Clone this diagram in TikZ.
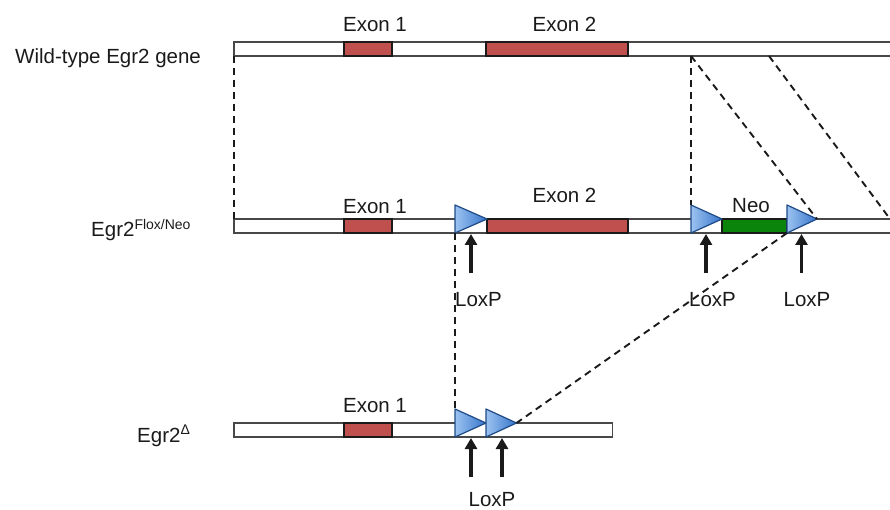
\documentclass[tikz,border=0pt]{standalone}
\usepackage{fontspec}
\setmainfont{Liberation Sans}
\usetikzlibrary{arrows.meta}
\definecolor{exonred}{HTML}{C0504D}
\definecolor{neogreen}{HTML}{0A840A}
\definecolor{loxlight}{HTML}{9CC3F0}
\definecolor{loxdark}{HTML}{3674CC}
\definecolor{loxedge}{HTML}{1E4A86}
\definecolor{ink}{HTML}{1A1A1A}
\tikzset{
  gene/.style={draw=ink!80, line width=1.4pt, fill=white},
  exon/.style={draw=ink, line width=1.2pt, fill=exonred},
  neo/.style={draw=ink, line width=1.2pt, fill=neogreen},
  loxp/.style={draw=loxedge, line width=1.2pt, left color=loxlight, right color=loxdark, line join=round},
  link/.style={draw=ink, line width=1.9pt, dash pattern=on 7pt off 5pt},
  pointer/.style={draw=ink, line width=3.6pt, -{Triangle[width=12pt,length=11pt]}},
  lbl/.style={font=\fontsize{20.5}{24}\selectfont, text=ink, anchor=base, inner sep=0pt},
  rowlbl/.style={lbl, anchor=base west},
}
\begin{document}
\begin{tikzpicture}[x=1pt, y=-1pt]
\useasboundingbox (0,0) rectangle (890,510);
\clip (0,0) rectangle (890,510);

% ---- wild-type allele ----
\draw[gene] (234,42) rectangle (900,56);
\draw[exon] (344,42) rectangle (392,56);
\draw[exon] (486,42) rectangle (628,56);
\node[lbl] (wex1) at (375,32) {Exon 1};
\node[lbl] (wex2) at (564.5,32) {Exon 2};
\node[rowlbl] (wlab) at (15,64) {Wild-type Egr2 gene};
\coordinate (wL) at (234,56);
\coordinate (wA) at (691,56);
\coordinate (wB) at (769,56);

% ---- floxed allele with neo cassette ----
\draw[gene] (234,219) rectangle (900,233);
\draw[exon] (344,219) rectangle (392,233);
\draw[exon] (487,219) rectangle (628,233);
\draw[neo] (722,219) rectangle (787,233);
\shadedraw[loxp] (455,205) -- (487,219) -- (455,233) -- cycle;
\shadedraw[loxp] (691,205) -- (722,219) -- (691,233) -- cycle;
\shadedraw[loxp] (787,205) -- (817,219) -- (787,233) -- cycle;
\coordinate (fL) at (234,219);
\coordinate (fA) at (691,205);
\coordinate (fB) at (817,219);
\coordinate (fC) at (890,219);
\coordinate (f1) at (455,233);
\coordinate (f3) at (787,233);
\node[lbl] (fex1) at (375,214) {Exon 1};
\node[lbl] (fex2) at (564.5,203) {Exon 2};
\node[lbl] (fneo) at (751,213) {Neo};
\node[rowlbl] (flab) at (91,237) {Egr2\textsuperscript{\fontsize{14}{16}\selectfont Flox/Neo}};
\coordinate (fa1) at (471,273);  \coordinate (fh1) at (471,234);
\coordinate (fa2) at (706,273);  \coordinate (fh2) at (706,234);
\coordinate (fa3) at (801.5,273);\coordinate (fh3) at (801.5,234);
\draw[pointer] (fa1) -- (fh1);
\draw[pointer] (fa2) -- (fh2);
\draw[pointer] (fa3) -- (fh3);
\node[lbl] (flox1) at (478.5,306) {LoxP};
\node[lbl] (flox2) at (712.5,306) {LoxP};
\node[lbl] (flox3) at (807,306) {LoxP};

% ---- deleted allele ----
\draw[gene] (234,423) rectangle (612.5,437);
\draw[exon] (344,423) rectangle (392,437);
\shadedraw[loxp] (455,409) -- (486,423) -- (455,437) -- cycle;
\shadedraw[loxp] (486,409) -- (516.5,423) -- (486,437) -- cycle;
\coordinate (d1) at (455,409);
\coordinate (d2) at (516.5,423);
\node[lbl] (dex1) at (375,412) {Exon 1};
\node[rowlbl] (dlab) at (137,442) {Egr2\textsuperscript{\fontsize{14}{16}\selectfont Δ}};
\coordinate (da1) at (471,477);  \coordinate (dh1) at (471,438);
\coordinate (da2) at (502,477);  \coordinate (dh2) at (502,438);
\draw[pointer] (da1) -- (dh1);
\draw[pointer] (da2) -- (dh2);
\node[lbl] (dlox) at (492,506) {LoxP};

% ---- correspondence lines between alleles ----
\draw[link] (wL) -- (fL);
\draw[link] (wA) -- (fA);
\draw[link] (wA) -- (fB);
\draw[link] (wB) -- (fC);
\draw[link] (f1) -- (d1);
\draw[link] (f3) -- (d2);
\end{tikzpicture}
\end{document}
